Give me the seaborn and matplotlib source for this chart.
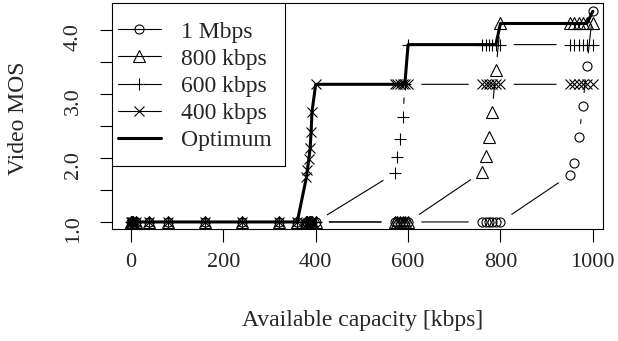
import numpy as np
import seaborn as sns
import matplotlib.pyplot as plt
from matplotlib.lines import Line2D
from matplotlib.patches import Rectangle

# available capacity grid [kbps]
capacity = [0, 2, 5, 10, 40, 80, 160, 240, 320, 360,
            380, 382, 385, 388, 390, 392, 400,
            571, 576, 582, 589, 593, 600,
            760, 768, 775, 782, 790, 800,
            950, 960, 970, 978, 987, 1000]

# video MOS per encoding bitrate
mos_1mbps = [1, 1, 1, 1, 1, 1, 1, 1, 1, 1,
             1, 1, 1, 1, 1, 1, 1,
             1, 1, 1, 1, 1, 1,
             1, 1, 1, 1, 1, 1,
             1.73, 1.92, 2.33, 2.81, 3.43, 4.29]
mos_800 = [1, 1, 1, 1, 1, 1, 1, 1, 1, 1,
           1, 1, 1, 1, 1, 1, 1,
           1, 1, 1, 1, 1, 1,
           1.78, 2.03, 2.33, 2.72, 3.37, 4.10,
           4.10, 4.10, 4.10, 4.10, 4.10, 4.10]
mos_600 = [1, 1, 1, 1, 1, 1, 1, 1, 1, 1,
           1, 1, 1, 1, 1, 1, 1,
           1.76, 2.02, 2.29, 2.64, 3.15, 3.77,
           3.77, 3.77, 3.77, 3.77, 3.77, 3.77,
           3.77, 3.77, 3.77, 3.77, 3.77, 3.77]
mos_400 = [1, 1, 1, 1, 1, 1, 1, 1, 1, 1,
           1.70, 1.81, 1.98, 2.15, 2.40, 2.72, 3.15,
           3.15, 3.15, 3.15, 3.15, 3.15, 3.15,
           3.15, 3.15, 3.15, 3.15, 3.15, 3.15,
           3.15, 3.15, 3.15, 3.15, 3.15, 3.15]
optimum = [1, 1, 1, 1, 1, 1, 1, 1, 1, 1,
           1.70, 1.81, 1.98, 2.15, 2.40, 2.72, 3.15,
           3.15, 3.15, 3.15, 3.15, 3.15, 3.77,
           3.77, 3.77, 3.77, 3.77, 3.77, 4.10,
           4.10, 4.10, 4.10, 4.10, 4.10, 4.29]

series = [("1 Mbps", mos_1mbps, "o", 6.5),
          ("800 kbps", mos_800, "^", 8),
          ("600 kbps", mos_600, "+", 8.5),
          ("400 kbps", mos_400, "x", 6.5)]

sns.set_theme(style="ticks")
plt.rcParams['font.family'] = ['Liberation Serif', 'DejaVu Serif']
plt.rcParams['font.size'] = 16

fig = plt.figure(figsize=(6.18, 3.41), dpi=100)
ax = fig.add_axes([112/618, 1-229/341, 491/618, 226/341])
ax.set_xlim(-41, 1022)
ax.set_ylim(0.89, 4.42)


# R type="b": line segments stop short of each point
def gapped_line(ax, xs, ys, gap=13.6):
    pts = ax.transData.transform(np.column_stack([xs, ys]))
    inv = ax.transData.inverted()
    sx, sy = [], []
    for p0, p1 in zip(pts[:-1], pts[1:]):
        d = np.hypot(*(p1 - p0))
        if d > 2*gap:
            u = (p1 - p0) / d
            a, b = inv.transform([p0 + u*gap, p1 - u*gap])
            sx += [a[0], b[0], np.nan]
            sy += [a[1], b[1], np.nan]
    ax.plot(sx, sy, color='black', lw=0.8)


handles = []
for label, mos, mk, ms in series:
    gapped_line(ax, capacity, mos)
    sns.lineplot(x=capacity, y=mos, ax=ax, estimator=None, linestyle='',
                 marker=mk, markersize=ms, markerfacecolor='none',
                 markeredgecolor='black', markeredgewidth=0.8, color='black')
    handles.append(Line2D([], [], color='black', lw=0.8, marker=mk, markersize=ms,
                          markerfacecolor='none', markeredgecolor='black',
                          markeredgewidth=0.8, label=label))

sns.lineplot(x=capacity, y=optimum, ax=ax, estimator=None, color='black', lw=2.2)
handles.append(Line2D([], [], color='black', lw=2.2, label="Optimum"))

# legend box like R's: flush with the top-left corner
ax.add_patch(Rectangle((0, 1 - 163/226), 173/491, 163/226, transform=ax.transAxes,
                       facecolor='white', edgecolor='black', lw=0.8, zorder=4))
leg = ax.legend(handles=handles, loc='upper left', bbox_to_anchor=(6/491, 1 - 18/226),
                borderaxespad=0, borderpad=0, fontsize=17, frameon=False,
                handlelength=1.8, handletextpad=0.85, labelspacing=0.24)
leg.set_zorder(5)

ax.set_xticks([0, 200, 400, 600, 800, 1000])
ax.set_yticks([1.0, 1.5, 2.0, 2.5, 3.0, 3.5, 4.0])
ax.set_yticklabels(['1.0', '', '2.0', '', '3.0', '', '4.0'])
ax.tick_params(direction='out', length=9, width=0.8, color='black', labelsize=16)
ax.tick_params(axis='x', pad=8.5)
ax.tick_params(axis='y', labelrotation=90, pad=12)
for sp in ax.spines.values():
    sp.set_color('black')
    sp.set_linewidth(0.8)

ax.set_xlabel("Available capacity [kbps]", fontsize=17, va='center')
ax.xaxis.set_label_coords(0.51, -0.403)
ax.set_ylabel("Video MOS", fontsize=17, va='center')
ax.yaxis.set_label_coords(-0.19, 0.49)

fig.savefig("out.png", dpi=100)
